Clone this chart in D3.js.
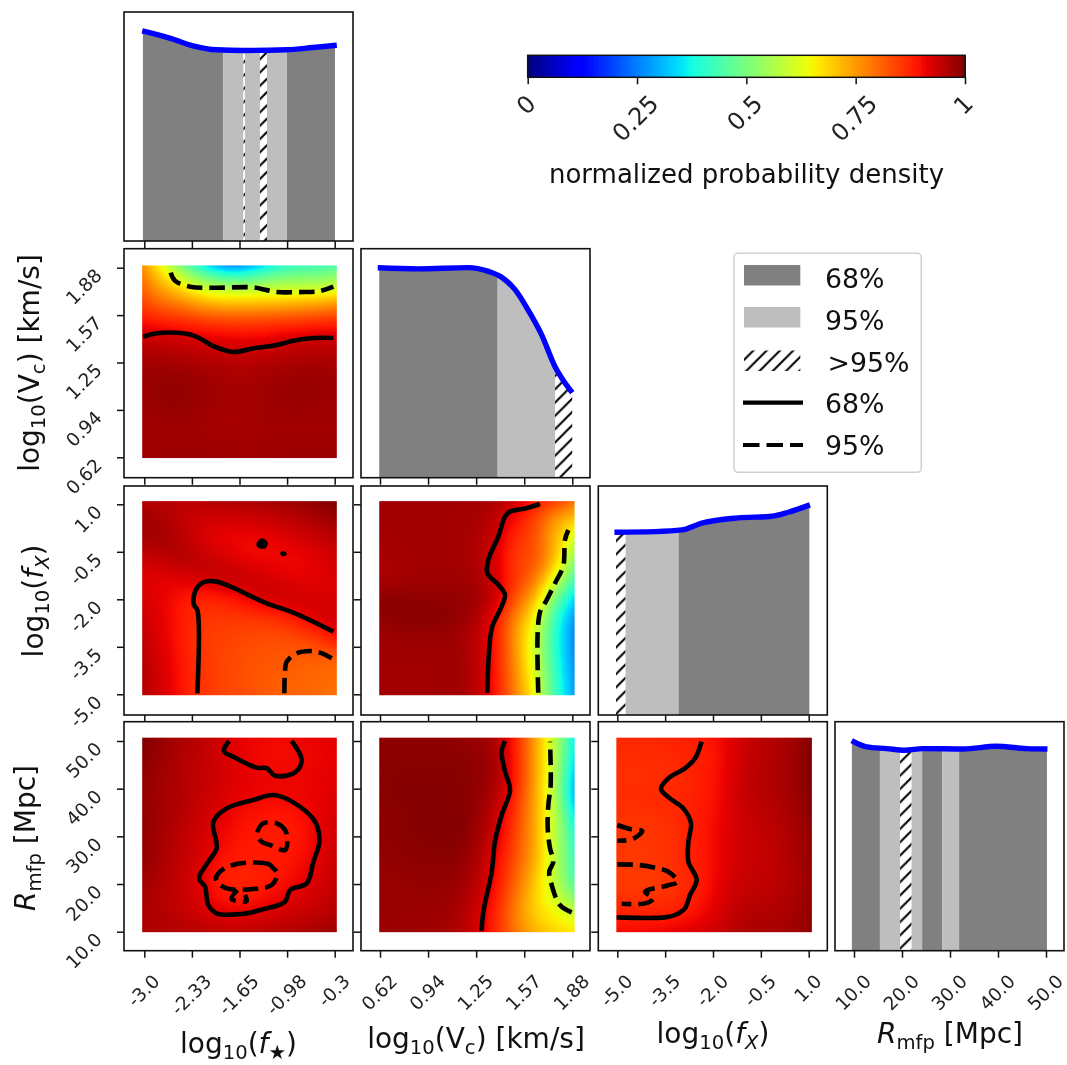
<!DOCTYPE html>
<html>
<head>
<meta charset="utf-8">
<script src="https://cdn.jsdelivr.net/npm/d3@7"></script>
<style>
    html, body { margin: 0; background: #fff; }
    svg { display: block; font-family: "DejaVu Sans"; filter: blur(0.6px); }
</style>
</head>
<body>
<div id="chart"></div>
<script>
// Tick values and labels of the four parameters
const fstarTicks = [-3, -2.325, -1.65, -0.975, -0.3];
const fstarLabels = ["-3.0", "-2.33", "-1.65", "-0.98", "-0.3"];
const vcTicks = [0.62, 0.935, 1.25, 1.565, 1.88];
const vcLabels = ["0.62", "0.94", "1.25", "1.57", "1.88"];
const fxTicks = [-5, -3.5, -2, -0.5, 1];
const fxLabels = ["-5.0", "-3.5", "-2.0", "-0.5", "1.0"];
const rmfpTicks = [10, 20, 30, 40, 50];
const rmfpLabels = ["10.0", "20.0", "30.0", "40.0", "50.0"];
const colorbarTicks = [0, 0.25, 0.5, 0.75, 1];
const colorbarLabels = ["0", "0.25", "0.5", "0.75", "1"];

// Extent of the density images in data units
const fstarExtent = [-3.03, -0.27];
const vcExtent = [0.615, 1.895];
const fxExtent = [-5.03, 1.1];
const rmfpExtent = [9.9, 50.7];

// 1D marginals: [parameter, normalized density]
const fstarCurve = [[-3.03, 1], [-2.64, 0.966], [-2.31, 0.929], [-1.97, 0.91], [-1.6, 0.907], [-0.98, 0.91], [-0.61, 0.921], [-0.27, 0.932]];
const vcCurve = [[0.605, 0.999], [0.871, 0.994], [1.2, 1], [1.33, 0.982], [1.417, 0.954], [1.505, 0.895], [1.59, 0.799], [1.68, 0.679], [1.767, 0.528], [1.82, 0.464], [1.88, 0.405]];
const fxCurve = [[-5.09, 0.87], [-3.82, 0.873], [-2.98, 0.881], [-2.35, 0.913], [-1.21, 0.938], [-0.16, 0.946], [0.36, 0.965], [1.04, 1]];
const rmfpCurve = [[9.52, 1], [12.65, 0.97], [16.8, 0.962], [20.6, 0.954], [24.4, 0.962], [32.8, 0.96], [39.7, 0.973], [46, 0.962], [50.3, 0.96]];

// Credible regions under each marginal: [from, to, kind]
const fstarRegions = [[-3.02, -1.88, "68"], [-1.88, -1.593, "95"], [-1.593, -1.572, "out"], [-1.572, -1.36, "95"], [-1.36, -1.26, "out"], [-1.26, -0.976, "95"], [-0.976, -0.296, "68"]];
const vcRegions = [[0.615, 1.391, "68"], [1.391, 1.767, "95"], [1.767, 1.883, "out"]];
const fxRegions = [[-5.04, -4.74, "out"], [-4.74, -3.08, "95"], [-3.08, 1.02, "68"]];
const rmfpRegions = [[9.52, 15.4, "68"], [15.4, 19.6, "95"], [19.6, 22, "out"], [22, 24.2, "95"], [24.2, 28.4, "68"], [28.4, 31.9, "95"], [31.9, 50.2, "68"]];

// 2D normalized densities, top row first
const densityVcFstar = [
    [.76, .64, .5, .38, .28, .26, .33, .4, .42, .43, .45],
    [.8, .72, .66, .58, .55, .54, .55, .56, .56, .56, .57],
    [.84, .8, .78, .74, .72, .72, .72, .72, .73, .74, .76],
    [.9, .89, .88, .87, .86, .86, .86, .87, .87, .88, .88],
    [.945, .945, .94, .93, .925, .92, .92, .93, .94, .945, .945],
    [.97, .97, .965, .96, .955, .95, .955, .96, .965, .965, .965],
    [.975, .985, .985, .975, .97, .965, .97, .975, .98, .98, .975],
    [.975, .985, .985, .975, .97, .965, .97, .975, .98, .975, .97],
    [.97, .975, .975, .97, .965, .965, .97, .97, .97, .97, .97],
    [.97, .97, .97, .97, .97, .97, .97, .97, .97, .97, .97],
    [.97, .975, .975, .975, .975, .97, .97, .975, .975, .975, .975]
];
const densityFxFstar = [
    [.955, .95, .95, .95, .955, .96, .965, .97, .975, .985, 1],
    [.975, .965, .94, .93, .925, .925, .93, .94, .95, .96, .975],
    [.97, .975, .955, .92, .905, .9, .9, .91, .92, .935, .945],
    [.93, .94, .96, .95, .93, .91, .9, .9, .9, .915, .93],
    [.92, .91, .915, .93, .95, .95, .935, .92, .91, .91, .92],
    [.925, .91, .89, .87, .875, .895, .93, .945, .935, .925, .92],
    [.935, .91, .885, .855, .85, .85, .85, .86, .895, .93, .935],
    [.945, .915, .885, .85, .84, .84, .83, .83, .83, .85, .9],
    [.95, .92, .89, .85, .84, .83, .82, .82, .815, .81, .81],
    [.955, .925, .89, .855, .84, .83, .82, .81, .805, .8, .795],
    [.955, .925, .89, .855, .84, .83, .82, .81, .805, .8, .79]
];
const densityRmfpFstar = [
    [1, .98, .96, .95, .93, .91, .905, .9, .905, .91, .915],
    [.99, .975, .955, .945, .925, .91, .9, .895, .9, .905, .91],
    [.985, .97, .955, .945, .93, .915, .91, .905, .905, .91, .915],
    [.98, .97, .955, .94, .925, .91, .905, .905, .905, .91, .92],
    [.985, .97, .955, .935, .915, .895, .89, .885, .89, .91, .925],
    [.985, .965, .945, .93, .905, .89, .885, .88, .885, .905, .93],
    [.985, .965, .945, .925, .895, .885, .885, .885, .89, .91, .935],
    [.975, .96, .94, .915, .88, .87, .875, .885, .9, .92, .94],
    [.965, .955, .935, .915, .885, .875, .885, .9, .915, .93, .945],
    [.96, .955, .945, .93, .915, .91, .915, .925, .935, .945, .955],
    [.96, .96, .955, .95, .945, .945, .95, .955, .96, .965, .975]
];
const densityFxVc = [
    [.97, .97, .97, .97, .97, .97, .96, .93, .88, .85, .79],
    [.97, .97, .97, .97, .97, .965, .945, .89, .84, .73, .69],
    [.97, .97, .97, .97, .97, .96, .93, .86, .83, .72, .6],
    [.96, .97, .97, .97, .97, .96, .925, .84, .83, .72, .52],
    [.96, .965, .97, .97, .97, .965, .93, .85, .8, .62, .44],
    [.99, .99, .985, .985, .985, .975, .945, .82, .72, .48, .33],
    [.985, .995, .995, .995, .985, .965, .89, .76, .65, .4, .27],
    [.97, .975, .975, .975, .97, .95, .89, .74, .6, .39, .25],
    [.97, .97, .97, .97, .975, .95, .89, .75, .6, .4, .26],
    [.97, .97, .97, .97, .975, .95, .89, .76, .62, .41, .27],
    [.97, .97, .97, .97, .975, .95, .89, .77, .64, .42, .28]
];
const densityRmfpVc = [
    [.985, .985, .985, .985, .985, .975, .965, .88, .74, .58, .36],
    [.99, .99, .99, .99, .99, .985, .97, .88, .74, .58, .35],
    [.99, .995, .995, .995, .995, .985, .97, .89, .74, .57, .31],
    [.99, .995, .995, .995, .995, .985, .96, .87, .73, .57, .29],
    [.985, .99, .995, .995, .995, .98, .94, .85, .73, .59, .36],
    [.985, .99, .995, .995, 1, .98, .925, .84, .73, .58, .4],
    [.985, .985, .99, .99, .99, .965, .91, .83, .73, .58, .42],
    [.98, .98, .985, .985, .985, .955, .9, .81, .71, .57, .43],
    [.98, .98, .98, .98, .975, .945, .89, .79, .68, .6, .48],
    [.98, .975, .975, .975, .965, .935, .87, .77, .68, .65, .6],
    [.975, .975, .975, .97, .96, .93, .87, .78, .72, .68, .67]
];
const densityRmfpFx = [
    [.87, .87, .87, .875, .88, .89, .92, .945, .955, .965, .995],
    [.865, .865, .865, .87, .875, .885, .92, .945, .955, .97, 1],
    [.86, .86, .86, .865, .875, .89, .925, .95, .96, .97, 1],
    [.865, .865, .87, .87, .875, .89, .925, .95, .955, .97, .995],
    [.86, .855, .86, .865, .88, .895, .925, .945, .95, .965, .99],
    [.855, .85, .855, .86, .88, .9, .925, .94, .945, .96, .985],
    [.855, .85, .855, .865, .875, .9, .925, .94, .945, .96, .985],
    [.85, .845, .85, .86, .875, .9, .93, .94, .945, .955, .98],
    [.855, .85, .85, .86, .875, .905, .935, .945, .95, .96, .98],
    [.875, .875, .875, .88, .89, .915, .945, .955, .955, .965, .985],
    [.9, .9, .905, .91, .92, .93, .955, .965, .965, .97, .985]
];

// Contours: { level, closed, points: [x, y] } in data units
const contoursVcFstar = [
    { level: 68, points: [[-3.014, 1.421], [-2.825, 1.444], [-2.447, 1.444], [-2.258, 1.421], [-2.021, 1.359], [-1.737, 1.32], [-1.454, 1.344], [-1.123, 1.366], [-0.886, 1.395], [-0.602, 1.413], [-0.319, 1.413]] },
    { level: 95, points: [[-2.626, 1.847], [-2.565, 1.793], [-2.352, 1.754], [-2.021, 1.747], [-1.454, 1.749], [-1.264, 1.731], [-1.123, 1.718], [-0.792, 1.718], [-0.508, 1.725], [-0.319, 1.754]] }
];
const contoursFxFstar = [
    { level: 68, points: [[-2.248, -4.97], [-2.248, -2.337], [-2.295, -2.179], [-2.295, -1.863], [-2.234, -1.579], [-2.139, -1.442], [-1.974, -1.442], [-1.832, -1.547], [-1.264, -2.126], [-0.886, -2.421], [-0.319, -3.021]] },
    { level: 68, closed: true, filled: true, points: [[-1.397, -0.253], [-1.335, -0.105], [-1.264, -0.211], [-1.288, -0.358], [-1.383, -0.337]] },
    { level: 68, closed: true, filled: true, points: [[-1.061, -0.547], [-1.028, -0.505], [-0.995, -0.568], [-1.028, -0.61]] },
    { level: 95, points: [[-1.014, -4.97], [-1.004, -4.232], [-0.981, -3.968], [-0.839, -3.705], [-0.65, -3.632], [-0.508, -3.684], [-0.342, -3.863]] }
];
const contoursRmfpFstar = [
    { level: 68, points: [[-1.799, 50], [-1.87, 47.9], [-1.737, 46.7], [-1.406, 44.4], [-1.264, 44.3], [-1.146, 42.7], [-0.862, 43.4], [-0.768, 46], [-0.91, 50]] },
    { level: 68, closed: true, points: [[-1.17, 38.67], [-0.886, 37.13], [-0.579, 33.08], [-0.517, 28.88], [-0.602, 24.69], [-0.697, 20.14], [-0.933, 18.74], [-1.004, 16.29], [-1.359, 14.55], [-1.548, 13.85], [-1.974, 13.85], [-2.092, 15.59], [-2.139, 19.44], [-2.224, 21.19], [-2.092, 24.69], [-1.974, 27.48], [-2.021, 33.08], [-1.832, 35.87], [-1.454, 37.62]] },
    { level: 95, closed: true, points: [[-1.312, 32.73], [-1.123, 32.73], [-1.004, 31.33], [-0.971, 29.23], [-1.004, 27.13], [-1.217, 28.18], [-1.335, 28.88], [-1.397, 30.63]] },
    { level: 95, closed: true, points: [[-1.17, 23.29], [-1.241, 24.2], [-1.69, 24.2], [-1.926, 22.59], [-1.983, 20.84], [-1.832, 19.09], [-1.454, 18.95], [-1.194, 19.79], [-1.113, 22.24]] },
    { level: 95, points: [[-1.681, 18.74], [-1.761, 16.85], [-1.548, 16.43], [-1.572, 17.69]] }
];
const contoursFxVc = [
    { level: 68, points: [[1.323, -4.95], [1.33, -4], [1.341, -3.27], [1.356, -2.85], [1.417, -2.22], [1.439, -1.85], [1.395, -1.54], [1.323, -1.17], [1.33, -0.75], [1.395, -0.02], [1.439, 0.61], [1.472, 0.77], [1.57, 0.87], [1.668, 1.01]] },
    { level: 95, points: [[1.657, -4.95], [1.653, -3.06], [1.67, -2.38], [1.701, -2.12], [1.767, -1.49], [1.821, -0.94], [1.832, -0.12], [1.854, 0.19]] }
];
const contoursRmfpVc = [
    { level: 68, points: [[1.286, 10.14], [1.297, 14.2], [1.352, 22.59], [1.373, 28.88], [1.417, 34.48], [1.472, 39.72], [1.439, 43.57], [1.417, 47.76], [1.439, 50]] },
    { level: 95, points: [[1.876, 14.06], [1.799, 15.59], [1.745, 19.79], [1.729, 22.59], [1.756, 24.69], [1.734, 27.48], [1.719, 31.68], [1.723, 36.57], [1.738, 40.77], [1.734, 49.86]] }
];
const contoursRmfpFx = [
    { level: 68, points: [[-5.02, 13], [-3.505, 13], [-3.19, 13.5], [-2.88, 14.9], [-2.72, 17.7], [-2.51, 20.84], [-2.77, 24.69], [-2.77, 28.88], [-2.69, 32.73], [-2.93, 35.87], [-3.35, 37.97], [-3.63, 39.93], [-3.4, 42.17], [-2.88, 44.27], [-2.56, 46.36], [-2.36, 49.86]] },
    { level: 95, points: [[-5, 32.38], [-4.6, 31.54], [-4.22, 31.12], [-4.39, 29.93], [-4.65, 29.23], [-5, 29.09]] },
    { level: 95, points: [[-5, 24.13], [-4.34, 23.99], [-3.82, 23.43], [-3.4, 22.59], [-3.11, 20.49], [-3.45, 19.65], [-4.13, 18.39], [-3.87, 16.99], [-4.13, 15.94], [-4.86, 15.87]] }
];

// Axis text: [string, "sub" | "it" | undefined]
const fstarTitle = [["log"], ["10", "sub"], ["("], ["f", "it"], ["★", "sub"], [")"]];
const vcTitle = [["log"], ["10", "sub"], ["(V"], ["c", "sub"], [") [km/s]"]];
const fxTitle = [["log"], ["10", "sub"], ["("], ["f", "it"], ["X", "subit"], [")"]];
const rmfpTitle = [["R", "it"], ["mfp", "sub"], [" [Mpc]"]];

const legendPatches = [["68", "68%"], ["95", "95%"], ["out", ">95%"]];
const legendLines = [[68, "68%"], [95, "95%"]];

// Layout
const frameX = [124, 361, 598.3, 835];
const frameY = [12, 248.7, 486, 721.7];
const frameSize = 229;
const tickX = [[144.3, 334.7], [380, 572.3], [617.3, 808.7], [854, 1046]];
const tickY = [null, [457.3, 267.7], [694.3, 504.3], [931.7, 741]];

const params = [
    { ticks: fstarTicks, labels: fstarLabels, extent: fstarExtent, curve: fstarCurve, regions: fstarRegions },
    { ticks: vcTicks, labels: vcLabels, extent: vcExtent, curve: vcCurve, regions: vcRegions },
    { ticks: fxTicks, labels: fxLabels, extent: fxExtent, curve: fxCurve, regions: fxRegions },
    { ticks: rmfpTicks, labels: rmfpLabels, extent: rmfpExtent, curve: rmfpCurve, regions: rmfpRegions }
];

const panels2d = [
    { row: 1, col: 0, density: densityVcFstar, contours: contoursVcFstar },
    { row: 2, col: 0, density: densityFxFstar, contours: contoursFxFstar },
    { row: 2, col: 1, density: densityFxVc, contours: contoursFxVc },
    { row: 3, col: 0, density: densityRmfpFstar, contours: contoursRmfpFstar },
    { row: 3, col: 1, density: densityRmfpVc, contours: contoursRmfpVc },
    { row: 3, col: 2, density: densityRmfpFx, contours: contoursRmfpFx }
];

const svg = d3.select("#chart").append("svg").attr("width", 1067).attr("height", 1065);

// Hatch used for the >95% region
const hatch = svg.append("defs").append("pattern")
    .attr("id", "hatch")
    .attr("patternUnits", "userSpaceOnUse")
    .attr("width", 13.3)
    .attr("height", 13.3);
hatch.append("rect").attr("width", 13.3).attr("height", 13.3).attr("fill", "#fff");
hatch.append("path")
    .attr("d", "M-2,2 L2,-2 M0,13.3 L13.3,0 M11.3,15.3 L15.3,11.3")
    .attr("stroke", "#000")
    .attr("stroke-width", 2.1);

const regionFill = { "68": "#808080", "95": "#bebebe", out: "url(#hatch)" };

// matplotlib jet
const jetR = d3.scaleLinear().domain([0, .35, .66, .89, 1]).range([0, 0, 1, 1, .5]).clamp(true);
const jetG = d3.scaleLinear().domain([0, .125, .375, .64, .91, 1]).range([0, 0, 1, 1, 0, 0]).clamp(true);
const jetB = d3.scaleLinear().domain([0, .11, .34, .65, 1]).range([.5, 1, 1, 0, 0]).clamp(true);
const jet = v => d3.rgb(jetR(v) * 255, jetG(v) * 255, jetB(v) * 255);

function densityImage(grid, width, height) {
    const canvas = document.createElement("canvas");
    canvas.width = width;
    canvas.height = height;
    const ctx = canvas.getContext("2d");
    const img = ctx.createImageData(width, height);
    const down = grid[0].map((_, c) => d3.interpolateBasis(grid.map(r => r[c])));
    for (let py = 0; py < height; py++) {
        const across = d3.interpolateBasis(down.map(f => f((py + .5) / height)));
        for (let px = 0; px < width; px++) {
            const c = jet(across((px + .5) / width));
            const k = (py * width + px) * 4;
            img.data[k] = c.r;
            img.data[k + 1] = c.g;
            img.data[k + 2] = c.b;
            img.data[k + 3] = 255;
        }
    }
    ctx.putImageData(img, 0, 0);
    return canvas.toDataURL();
}

// Text with subscripts and italics
function richText(sel, parts, size) {
    let lifted = false;
    parts.forEach(([str, kind]) => {
        const isSub = kind === "sub" || kind === "subit";
        const t = sel.append("tspan").text(str);
        t.attr("dy", isSub && !lifted ? size * .2 : (!isSub && lifted ? -size * .2 : 0));
        if (isSub) t.attr("font-size", size * .7);
        if (kind === "it" || kind === "subit") t.attr("font-style", "italic");
        lifted = isSub;
    });
}

function drawFrame(i, j) {
    return svg.append("rect")
        .attr("x", frameX[j]).attr("y", frameY[i])
        .attr("width", frameSize).attr("height", frameSize)
        .attr("fill", "none").attr("stroke", "#111").attr("stroke-width", 1.6);
}

function bottomTicks(i, j, x) {
    const g = svg.append("g")
        .attr("transform", `translate(0,${frameY[i] + frameSize})`)
        .call(d3.axisBottom(x).tickValues(params[j].ticks).tickSize(7).tickFormat(""));
    g.select(".domain").remove();
    g.selectAll("line").attr("stroke", "#111").attr("stroke-width", 1.5);
}

function leftTicks(i, j, y, ticks) {
    const g = svg.append("g")
        .attr("transform", `translate(${frameX[j]},0)`)
        .call(d3.axisLeft(y).tickValues(ticks).tickSize(7).tickFormat(""));
    g.select(".domain").remove();
    g.selectAll("line").attr("stroke", "#111").attr("stroke-width", 1.5);
}

const contourLine = (x, y, closed) => d3.line()
    .x(d => x(d[0]))
    .y(d => y(d[1]))
    .curve(closed ? d3.curveCatmullRomClosed.alpha(.5) : d3.curveCatmullRom.alpha(.5));

// 2D panels
panels2d.forEach(p => {
    const px = params[p.col], py = params[p.row];
    const x = d3.scaleLinear().domain([px.ticks[0], px.ticks[4]]).range(tickX[p.col]);
    const y = d3.scaleLinear().domain([py.ticks[0], py.ticks[4]]).range(tickY[p.row]);
    const left = x(px.extent[0]), right = x(px.extent[1]);
    const top = y(py.extent[1]), bottom = y(py.extent[0]);

    svg.append("image")
        .attr("x", left).attr("y", top)
        .attr("width", right - left).attr("height", bottom - top)
        .attr("preserveAspectRatio", "none")
        .attr("href", densityImage(p.density, 195, 195));

    p.contours.forEach(c => {
        svg.append("path")
            .attr("d", contourLine(x, y, c.closed)(c.points))
            .attr("fill", c.filled ? "#000" : "none")
            .attr("stroke", "#000")
            .attr("stroke-width", c.filled ? 2 : 4.6)
            .attr("stroke-dasharray", c.level === 95 ? "15.5 7" : null);
    });

    drawFrame(p.row, p.col);
    bottomTicks(p.row, p.col, x);
    leftTicks(p.row, p.col, y, py.ticks);
});

// Diagonal panels with the 1D marginals
params.forEach((p, i) => {
    const x = d3.scaleLinear().domain([p.ticks[0], p.ticks[4]]).range(tickX[i]);
    const y = d3.scaleLinear().domain([0, 1.09]).range([frameY[i] + frameSize, frameY[i]]);
    const area = d3.area().x(d => x(d[0])).y0(y(0)).y1(d => y(d[1])).curve(d3.curveMonotoneX);
    const line = d3.line().x(d => x(d[0])).y(d => y(d[1])).curve(d3.curveMonotoneX);

    svg.select("defs").append("clipPath").attr("id", `under${i}`)
        .append("path").attr("d", area(p.curve));

    svg.append("g").attr("clip-path", `url(#under${i})`)
        .selectAll("rect")
        .data(p.regions)
        .enter()
        .append("rect")
        .attr("x", d => x(d[0]))
        .attr("y", frameY[i])
        .attr("width", d => x(d[1]) - x(d[0]))
        .attr("height", frameSize)
        .attr("fill", d => regionFill[d[2]]);

    svg.append("path")
        .attr("d", line(p.curve))
        .attr("fill", "none")
        .attr("stroke", "#0000ff")
        .attr("stroke-width", 5.4);

    drawFrame(i, i);
    bottomTicks(i, i, x);
});

// Rotated tick labels under the bottom row
const tickLabelSize = 18.5;
params.forEach((p, j) => {
    const x = d3.scaleLinear().domain([p.ticks[0], p.ticks[4]]).range(tickX[j]);
    p.labels.forEach((lab, k) => {
        const t = svg.append("text")
            .attr("font-size", tickLabelSize)
            .attr("fill", "#222")
            .attr("text-anchor", "middle")
            .text(lab);
        const w = t.node().getComputedTextLength();
        const cy = 973 + (w + .73 * tickLabelSize) / Math.SQRT2 / 2;
        t.attr("transform", `translate(${x(p.ticks[k]) - 1},${cy}) rotate(-45)`)
            .attr("dy", ".36em");
    });
});

// Rotated tick labels left of the first column
[1, 2, 3].forEach(i => {
    const p = params[i];
    const y = d3.scaleLinear().domain([p.ticks[0], p.ticks[4]]).range(tickY[i]);
    p.labels.forEach((lab, k) => {
        svg.append("text")
            .attr("font-size", tickLabelSize)
            .attr("fill", "#222")
            .attr("text-anchor", "end")
            .attr("transform", `translate(103,${y(p.ticks[k]) + 9}) rotate(-45)`)
            .text(lab);
    });
});

// Axis titles
const titleSize = 28;
[[fstarTitle, 238.5, 1053], [vcTitle, 476, 1048], [fxTitle, 713, 1043], [rmfpTitle, 950, 1043]].forEach(([parts, tx, ty]) => {
    svg.append("text").attr("x", tx).attr("y", ty)
        .attr("font-size", titleSize).attr("fill", "#111").attr("text-anchor", "middle")
        .call(richText, parts, titleSize);
});
[[vcTitle, 39, 363], [fxTitle, 43, 601], [rmfpTitle, 35, 838]].forEach(([parts, tx, ty]) => {
    svg.append("text")
        .attr("transform", `translate(${tx},${ty}) rotate(-90)`)
        .attr("font-size", titleSize).attr("fill", "#111").attr("text-anchor", "middle")
        .call(richText, parts, titleSize);
});

// Colorbar
const cbX = d3.scaleLinear().domain([0, 1]).range([527.7, 965]);
const cbTop = 55.3, cbBottom = 77.3;
svg.append("g").attr("shape-rendering", "crispEdges").selectAll("rect")
    .data(d3.range(0, 1, 1 / 256))
    .enter()
    .append("rect")
    .attr("x", d => cbX(d))
    .attr("y", cbTop)
    .attr("width", (cbX(1) - cbX(0)) / 256 + 1)
    .attr("height", cbBottom - cbTop)
    .attr("fill", d => jet(d));
svg.append("rect")
    .attr("x", cbX(0)).attr("y", cbTop)
    .attr("width", cbX(1) - cbX(0)).attr("height", cbBottom - cbTop)
    .attr("fill", "none").attr("stroke", "#111").attr("stroke-width", 1.5);
const cbAxis = svg.append("g")
    .attr("transform", `translate(0,${cbBottom})`)
    .call(d3.axisBottom(cbX).tickValues(colorbarTicks).tickSize(7).tickFormat(""));
cbAxis.select(".domain").remove();
cbAxis.selectAll("line").attr("stroke", "#111").attr("stroke-width", 1.5);
const cbLabelSize = 24;
colorbarLabels.forEach((lab, k) => {
    const t = svg.append("text")
        .attr("font-size", cbLabelSize).attr("fill", "#222").attr("text-anchor", "middle").text(lab);
    const w = t.node().getComputedTextLength();
    const cy = 93 + (w + .73 * cbLabelSize) / Math.SQRT2 / 2;
    t.attr("transform", `translate(${cbX(colorbarTicks[k]) - 2},${cy}) rotate(-45)`).attr("dy", ".36em");
});
svg.append("text")
    .attr("x", 746.5).attr("y", 183.3)
    .attr("font-size", 26).attr("fill", "#111").attr("text-anchor", "middle")
    .text("normalized probability density");

// Legend
svg.append("rect")
    .attr("x", 734).attr("y", 253.3)
    .attr("width", 187.3).attr("height", 219)
    .attr("rx", 4)
    .attr("fill", "#fff").attr("stroke", "#d0d0d0").attr("stroke-width", 1.5);
const legendSize = 26.8;
const patchTop = [265, 307, 350.5], patchBase = [288, 329.5, 371.5];
legendPatches.forEach(([kind, lab], k) => {
    svg.append("rect")
        .attr("x", 744).attr("y", patchTop[k])
        .attr("width", 56.3).attr("height", 20.5)
        .attr("fill", regionFill[kind]);
    svg.append("text")
        .attr("x", kind === "out" ? 827.5 : 825).attr("y", patchBase[k])
        .attr("font-size", legendSize).attr("fill", "#111")
        .text(lab);
});
const lineY = [402.7, 445], lineBase = [413, 455];
legendLines.forEach(([level, lab], k) => {
    svg.append("line")
        .attr("x1", 743).attr("x2", 803)
        .attr("y1", lineY[k]).attr("y2", lineY[k])
        .attr("stroke", "#000").attr("stroke-width", 4.2)
        .attr("stroke-dasharray", level === 95 ? "16.5 7" : null);
    svg.append("text")
        .attr("x", 825).attr("y", lineBase[k])
        .attr("font-size", legendSize).attr("fill", "#111")
        .text(lab);
});
</script>
</body>
</html>
